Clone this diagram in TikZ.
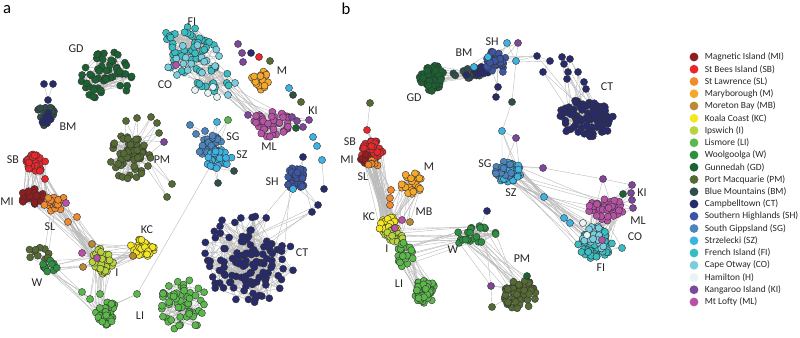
\documentclass[tikz,border=0pt]{standalone}
\usepackage{fontspec}
\setmainfont{Carlito}
\usetikzlibrary{backgrounds}
\pgfdeclarelayer{bg}
\pgfsetlayers{bg,main}
\definecolor{cMI}{HTML}{921C1F}
\definecolor{cSB}{HTML}{E8262B}
\definecolor{cSL}{HTML}{F08A2C}
\definecolor{cM}{HTML}{F6A82A}
\definecolor{cMB}{HTML}{B98A33}
\definecolor{cKC}{HTML}{F4E620}
\definecolor{cI}{HTML}{B8D43C}
\definecolor{cLI}{HTML}{5BB94B}
\definecolor{cW}{HTML}{2C8F42}
\definecolor{cGD}{HTML}{1B6232}
\definecolor{cPM}{HTML}{566B34}
\definecolor{cBM}{HTML}{2F4F4C}
\definecolor{cCT}{HTML}{272A6C}
\definecolor{cSH}{HTML}{3C55A5}
\definecolor{cSG}{HTML}{4B85BE}
\definecolor{cSZ}{HTML}{3DB3E4}
\definecolor{cFI}{HTML}{38BDC2}
\definecolor{cCO}{HTML}{79CDDC}
\definecolor{cH}{HTML}{E6F4F6}
\definecolor{cKI}{HTML}{7E479A}
\definecolor{cML}{HTML}{B752A6}
\newcommand\lblfont{\fontsize{9}{10}\selectfont}
\newcommand\legfont{\fontsize{7.1}{8}\selectfont}
\newcommand\panfont{\fontsize{12.5}{14}\selectfont}
\tikzset{
  dot/.style={circle, draw=black!80, line width=0.3pt, minimum size=5.3pt, inner sep=0pt},
  lnk/.style={draw=black!27, line width=0.3pt},
  lbl/.style={font=\lblfont, text=black!85, inner sep=0pt},
  legdot/.style={circle, draw=none, minimum size=6.6pt, inner sep=0pt},
  legtxt/.style={font=\legfont, text=black!85, inner sep=0pt, anchor=west},
  pan/.style={font=\panfont, text=black, inner sep=0pt}
}
\begin{document}
\begin{tikzpicture}[x=0.75pt,y=-0.75pt]
\useasboundingbox (0,0) rectangle (800,338);
\pgfmathsetseed{4711}
% ---------------- clusters: name/cx/cy/rx/ry/n/color/k/e
\def\clusters{%
aGD/106/76/27/25/55/cGD/3/0.6,
aBM/45/116/11/10/20/cBM/3/0.6,
aBMn/45/117/8/8/8/cCT/2/0.6,
aFI/185/50/30/23/46/cFI/4/0.55,
aFIb/213/78/20/14/16/cFI/3/0.55,
aCO/195/65/30/25/16/cCO/2/0.55,
aM/261/80/10/10/22/cM/3/0.6,
aML/272/124/19/13/40/cML/3/0.6,
aSG/208/145/14/13/28/cSG/3/0.6,
aSZ/219/160/13/11/28/cSZ/3/0.6,
aPM/127/157/25/22/58/cPM/3/0.6,
aSB/36/163/11/9/28/cSB/3/0.6,
aMI/33/197/12/9/25/cMI/3/0.6,
aSL/55/203/11/9/18/cSL/3/0.6,
aI/102/261/12/13/32/cI/3/0.6,
aKC/142/248/12/10/30/cKC/3/0.6,
aWo/40/253/12/8/10/cPM/2/0.6,
aWg/50/267/10/8/12/cW/2/0.6,
aLIa/107/313/12/12/35/cLI/3/0.6,
aLIb/184/306/24/28/58/cLI/3/0.6,
aSH/296/178/11/12/35/cSH/3/0.6,
aCTa/247/262/28/26/55/cCT/3/0.6,
aCTb/250/256/47/48/60/cCT/3/0.42,
bGD/432/78/13/13/60/cGD/3/0.6,
bBM/468/73/16/6/16/cBM/2/0.6,
bBMn/472/71/17/7/10/cCT/2/0.6,
bSH/497/62/11/12/35/cSH/3/0.6,
bCT/587/118/29/19/100/cCT/3/0.6,
bSZ/508/172/13/11/40/cSZ/3/0.6,
bSG/505/170/10/9/15/cSG/2/0.6,
bML/607/209/19/12/40/cML/3/0.6,
bFI/595/244/17/15/60/cFI/3/0.6,
bCO/597/238/16/12/20/cCO/2/0.6,
bSB/372/151/11/11/40/cSB/3/0.6,
bMI/367/158/8/6/10/cMI/2/0.6,
bSL/373/163/6/5/8/cSL/2/0.6,
bM/412/184/11/12/22/cM/3/0.6,
bKC/388/225/10/10/30/cKC/3/0.6,
bI/394/236/10/9/25/cI/3/0.6,
bLIx/406/257/9/15/20/cLI/3/0.6,
bLI/425/292/12/12/45/cLI/3/0.6,
bW/475/236/22/12/22/cW/3/0.6,
bPM/520/294/17/16/55/cPM/3/0.6}
% ---------------- single nodes: name/x/y/color
\def\extras{%
xa1/48/100/cCT, xa2/44/84/cCT, xa3/53/84/cCT,
xh1/195/90/cH, xh2/208/93/cH, xh3/217/97/cH, xh4/213/87/cH, xm1/176/65/cML, xt1/235/83/cCO, xt2/228/95/cCO,
xp1/238/44/cKI, xp2/242/53/cKI, xp3/243/62/cKI, xn1/251/53/cCT, xr1/259/57/cSB, xo1/270/61/cPM,
xlb/289/88/cSZ, xds/293/95/cBM, xol/301/102/cPM,
xml1/248/115/cKI, xml2/256/116/cML, xki1/292/117/cKI, xki2/297/121/cKI, xki3/303/127/cKI, xki4/309/120/cKI, xkg/296/128/cGD,
xsg1/190/125/cSG, xsg2/217/122/cSZ, xsg3/228/120/cLI, xsg4/196/134/cSG, xsg5/205/131/cSG,
xbm1/234/171/cBM, xbm2/218/183/cBM,
xpm1/126/121/cPM, xpm2/137/118/cPM, xpm3/151/117/cPM, xpm4/157/123/cPM, xpm5/159/133/cPM, xpm6/164/142/cKI, xpm7/172/184/cPM, xpm8/167/197/cPM,
xsb/45/179/cSB, xsl1/68/222/cSL, xsl2/77/217/cSL, xslm/66/203/cML,
xim1/82/253/cML, xim2/97/258/cML, xib1/92/244/cMB, xib2/83/267/cMB, xkb/133/256/cMB,
xl1/82/292/cLI, xl2/90/299/cLI, xl3/100/294/cLI, xl4/137/294/cLI,
xsh1/303/157/cCT, xsh2/293/189/cSZ, xr2/313/137/cSZ, xr3/317/146/cSZ, xr7/322/160/cSZ, xr6/324/189/cCT, xr4/318/205/cCT, xr5/312/212/cCT,
xbo/370/103/cPM, xbr/367/130/cSB,
xbs1/507/43/cSZ, xbs2/518/43/cKI, xbs3/516/61/cSZ, xbs4/488/57/cSZ, xbs5/474/67/cSZ, xbs6/498/87/cCT, xbs7/496/97/cCT,
xca1/537/56/cCT, xca2/550/61/cCT, xca3/543/72/cCT, xca4/562/57/cCT, xca5/564/64/cCT, xca6/570/59/cCT, xca7/568/72/cCT, xca8/578/72/cCT, xca9/567/79/cCT, xca10/584/82/cCT, xca11/586/89/cCT,
xcd1/512/102/cBM, xcd2/502/131/cSZ, xcd3/516/138/cKI,
xsp1/543/168/cKI, xsp2/603/179/cKI, xsp3/632/185/cKI, xsc1/544/197/cSZ,
xkb1/631/193/cKI, xkb2/632/200/cKI, xkb3/633/208/cKI, xkgb/623/194/cGD,
xfl1/564/218/cSZ, xfl2/570/223/cSZ, xfw1/583/223/cH, xfw2/587/235/cH, xft/622/248/cFI, xfm/602/240/cML,
xso1/391/190/cSL, xso2/390/198/cSL, xso3/390/205/cSL,
xmb/410/222/cMB, xmm1/402/220/cML, xmm2/395/228/cML,
xwn/487/211/cCT, xpk/491/286/cKI, xpo/492/307/cPM, xpg/527/276/cGD}
% ---------------- draw cluster nodes
\foreach \nm/\cx/\cy/\rx/\ry/\n/\col/\k/\e in \clusters {
  \expandafter\xdef\csname cn\nm\endcsname{\n}
  \foreach \i in {1,...,\n} {
    \pgfmathsetmacro\ang{rnd*360}
    \pgfmathsetmacro\rr{pow(rnd,\e)}
    \node[dot, fill=\col] (\nm-\i) at ({\cx+\rx*\rr*cos(\ang)},{\cy+\ry*\rr*sin(\ang)}) {};
  }
}
\foreach \nm/\x/\y/\col in \extras {
  \node[dot, fill=\col] (\nm) at (\x,\y) {};
}
% ---------------- connectors
\begin{pgfonlayer}{bg}
% inside clusters
\foreach \nm/\cx/\cy/\rx/\ry/\n/\col/\k/\e in \clusters {
  \foreach \i in {1,...,\n} {
    \foreach \t in {1,...,\k} {
      \pgfmathtruncatemacro\j{1+int(rnd*\n)}
      \draw[lnk] (\nm-\i) -- (\nm-\j);
    }
  }
}
% between clusters
\foreach \A/\B/\m in {aFI/aFIb/15, aFIb/aML/12, aCO/aFI/10, aCO/aFIb/6, aBM/aBMn/8, aSG/aSZ/30,
  aSB/aMI/20, aSB/aSL/10, aMI/aSL/20, aSL/aI/10, aMI/aI/8, aSB/aI/4, aI/aKC/15, aI/aLIa/10,
  aWg/aI/6, aWo/aWg/8, aWg/aLIa/4, aSH/aCTb/3, aCTa/aCTb/60, aWo/aSL/2,
  bGD/bBM/15, bBM/bBMn/10, bBMn/bSH/10, bBM/bSH/6, bSB/bMI/10, bSB/bSL/8,
  bSL/bKC/20, bMI/bKC/10, bSB/bKC/10, bSB/bI/10, bM/bKC/10, bM/bI/6, bKC/bI/20, bI/bLIx/15,
  bKC/bLIx/6, bLIx/bLI/20, bI/bW/8, bLIx/bW/8, bW/bPM/15, bSZ/bSG/15, bSZ/bFI/12, bSZ/bCO/6,
  bML/bFI/25, bML/bCO/15, bFI/bCO/15, bSZ/bML/4} {
  \edef\na{\csname cn\A\endcsname}
  \edef\nb{\csname cn\B\endcsname}
  \foreach \t in {1,...,\m} {
    \pgfmathtruncatemacro\p{1+int(rnd*\na)}
    \pgfmathtruncatemacro\q{1+int(rnd*\nb)}
    \draw[lnk] (\A-\p) -- (\B-\q);
  }
}
% single nodes to clusters
\foreach \X/\B/\m in {xa1/aBM/2,
  xh1/aFI/2, xh2/aFIb/2, xh3/aFIb/2, xh4/aFIb/2, xm1/aFI/3, xt1/aFIb/2, xt2/aFIb/2,
  xml1/aFIb/4, xml1/aML/1, xml2/aML/3, xki1/aML/3, xki2/aML/2, xki3/aML/2, xki4/aML/2, xkg/aML/2,
  xsg1/aSG/2, xsg2/aSG/2, xsg3/aSG/2, xsg4/aSG/3, xsg5/aSG/3, xbm1/aSZ/2, xbm2/aSZ/2,
  xpm1/aPM/2, xpm2/aPM/2, xpm3/aPM/2, xpm4/aPM/2, xpm5/aPM/2, xpm6/aPM/2, xpm7/aPM/2, xpm8/aPM/2,
  xsb/aSB/3, xsb/aSL/2, xsl1/aSL/2, xsl2/aSL/2, xsl1/aI/2, xsl2/aI/2, xslm/aSL/2, xslm/aI/2,
  xim1/aI/2, xim2/aI/2, xib1/aI/2, xib2/aI/2, xib1/aKC/2, xkb/aKC/2, xkb/aI/2,
  xl1/aWg/2, xl2/aI/2, xl3/aI/2, xl1/aLIa/2, xl2/aLIa/2, xl3/aLIa/2, xl4/aLIa/2, xl4/aSZ/1,
  xsh1/aSH/2, xsh2/aSH/2, xr4/aSH/2, xr5/aSH/1, xr4/aCTb/2, xr5/aCTb/2,
  xbr/bSB/3, xbs1/bSH/2, xbs2/bSH/2, xbs3/bSH/2, xbs4/bSH/2, xbs5/bSH/2, xbs5/bBM/2, xbs6/bSH/2, xbs7/bSH/1,
  xca1/bSH/2, xca2/bSH/1, xca1/bCT/1, xca3/bCT/2, xca4/bCT/2, xca5/bCT/2, xca6/bCT/2, xca7/bCT/2,
  xca8/bCT/2, xca9/bCT/2, xca10/bCT/2, xca11/bCT/3,
  xcd2/bSZ/3, xcd3/bSZ/2, xsp1/bSZ/2, xsp2/bML/2, xsp3/bML/2, xsc1/bSZ/3, xsc1/bML/2,
  xkb1/bML/2, xkb2/bML/2, xkb3/bML/2, xkb3/bFI/1, xkgb/bML/2,
  xfl1/bFI/2, xfl2/bFI/2, xfl1/bSZ/1, xfl2/bSZ/1, xfw1/bFI/2, xfw2/bFI/2, xft/bFI/2, xft/bML/1, xfm/bFI/2,
  xso1/bM/1, xso1/bSL/2, xso2/bKC/1, xso3/bKC/2, xso1/bKC/1,
  xmb/bKC/2, xmb/bM/2, xmm1/bKC/2, xmm2/bKC/2,
  xwn/bW/1, xpk/bW/2, xpk/bPM/2, xpo/bPM/1, xpg/bPM/2, xpg/bW/1} {
  \edef\nb{\csname cn\B\endcsname}
  \foreach \t in {1,...,\m} {
    \pgfmathtruncatemacro\q{1+int(rnd*\nb)}
    \draw[lnk] (\X) -- (\B-\q);
  }
}
% single nodes to single nodes
\foreach \X/\Y in {xa1/xa2, xa1/xa3, xml1/xml2, xki1/xki4, xr2/xr3, xr7/xr6, xl1/xl2, xl2/xl3,
  xbo/xbr, xbs3/xca1, xbs3/xcd1, xbs6/xbs7, xcd1/xcd2, xcd2/xcd3, xsp1/xsp2, xsp2/xsp3,
  xsp3/xkb1, xpo/xpk, xca1/xca2, xca2/xca3, xca4/xca5, xca6/xca7, xbs2/xbs3, xbs1/xbs3} {
  \draw[lnk] (\X) -- (\Y);
}
\end{pgfonlayer}
% ---------------- labels
\foreach \t/\x/\y [count=\c] in {GD/76/49, BM/68/127, FI/192/22, CO/165/85, M/282/71, KI/313/111,
  ML/269/147, SG/233/137, SZ/242/155, PM/162/160, SB/13/160, MI/7/202, SL/50/227, KC/147/230,
  I/117/273, W/37/283, LI/140/316, SH/272/182, CT/302/253,
  GD/414/98, BM/464/53, SH/492/42, CT/607/87, SB/350/142, MI/347/160, M/429/167, SL/363/177,
  SG/485/164, SZ/511/193, KC/369/217, MB/424/212, I/387/249, W/453/250, LI/399/284, PM/522/259,
  KI/642/193, ML/638/221, CO/635/237, FI/601/268} {
  \node[lbl] (lab\c) at (\x,\y) {\t};
}
\node[pan] (pa) at (7,10) {a};
\node[pan] (pb) at (346,9) {b};
% ---------------- legend
\foreach \lab/\col [count=\c] in {Magnetic Island (MI)/cMI, St Bees Island (SB)/cSB,
  St Lawrence (SL)/cSL, Maryborough (M)/cM, Moreton Bay (MB)/cMB, Koala Coast (KC)/cKC,
  Ipswich (I)/cI, Lismore (LI)/cLI, Woolgoolga (W)/cW, Gunnedah (GD)/cGD,
  Port Macquarie (PM)/cPM, Blue Mountains (BM)/cBM, Campbelltown (CT)/cCT,
  Southern Highlands (SH)/cSH, South Gippsland (SG)/cSG, Strzelecki (SZ)/cSZ,
  French Island (FI)/cFI, Cape Otway (CO)/cCO, Hamilton (H)/cH, Kangaroo Island (KI)/cKI,
  Mt Lofty (ML)/cML} {
  \node[legdot, fill=\col] (ld\c) at (694,{57+(\c-1)*12.25}) {};
  \node[legtxt] (lt\c) at (704.5,{57+(\c-1)*12.25}) {\lab};
}
\end{tikzpicture}
\end{document}
